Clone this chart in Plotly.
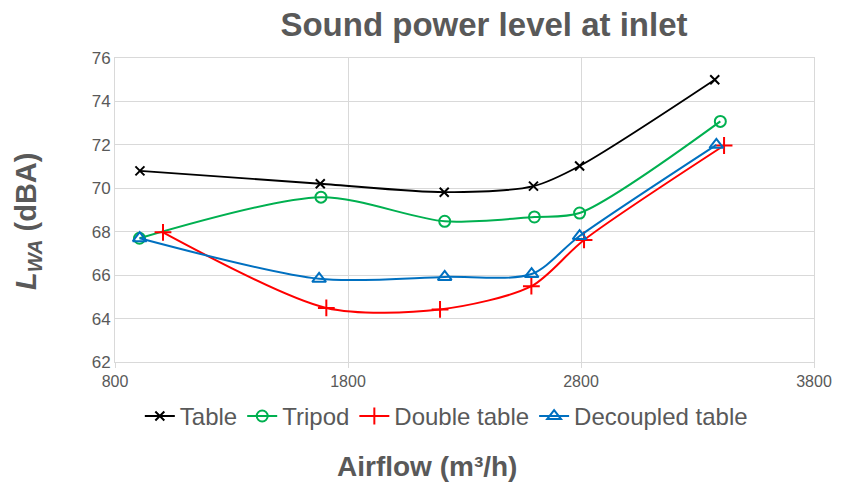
import plotly.graph_objects as go

# Airflow (m³/h) and sound power level L_WA (dBA) for each setup
table_x = [907, 1681, 2213, 2596, 2794, 3374]
table_y = [70.8, 70.21, 69.82, 70.1, 71.03, 75.0]

tripod_x = [905, 1684, 2215, 2600, 2794, 3398]
tripod_y = [67.7, 69.59, 68.48, 68.68, 68.86, 73.08]

double_x = [1006, 1707, 2195, 2587, 2813, 3414]
double_y = [67.97, 64.49, 64.42, 65.49, 67.62, 71.97]

decoupled_x = [906, 1676, 2215, 2588, 2794, 3381]
decoupled_y = [67.7, 65.83, 65.92, 66.05, 67.8, 72.0]

x_ticks = [800, 1800, 2800, 3800]

GRAY = "#595959"
GRID = "#d9d9d9"
FONT = "Liberation Sans, Arial, sans-serif"

series = [
    ("Table", table_x, table_y, "#000000", "x-thin-open", 9, 1.8),
    ("Tripod", tripod_x, tripod_y, "#00B050", "circle-open", 11, 2),
    ("Double table", double_x, double_y, "#FF0000", "cross-thin-open", 12, 2),
    ("Decoupled table", decoupled_x, decoupled_y, "#0070C0", "triangle-up-open", 12, 2),
]

fig = go.Figure()
for name, xs, ys, color, symbol, size, width in series:
    fig.add_trace(go.Scatter(
        x=xs, y=ys, name=name, mode="lines+markers",
        line=dict(color=color, width=width, shape="spline", smoothing=0.8),
        marker=dict(symbol=symbol, size=size, color=color,
                    line=dict(color=color, width=2)),
    ))

fig.update_layout(
    width=841, height=489,
    margin=dict(l=115, r=27, t=58, b=127, autoexpand=False),
    paper_bgcolor="white", plot_bgcolor="white",
    font=dict(family=FONT, color=GRAY, size=15),
    title=dict(text="<b>Sound power level at inlet</b>", x=0.5755, xanchor="center",
               y=0.949, yanchor="middle", font=dict(size=33, color=GRAY)),
    legend=dict(orientation="h", x=0.474, xanchor="center", y=-0.105, yanchor="top",
                font=dict(size=24, color=GRAY), itemwidth=30),
    showlegend=True,
)

# axis titles placed as annotations relative to the plot area
fig.add_annotation(
    text="<b><i>L</i><sub><i>WA</i></sub> (dBA)</b>", xref="paper", yref="paper",
    x=-0.1245, y=0.464, xanchor="center", yanchor="middle", textangle=-90,
    showarrow=False, font=dict(size=29, color=GRAY),
)
fig.add_annotation(
    text="<b>Airflow (m³/h)</b>", xref="paper", yref="paper",
    x=0.446, y=-0.345, xanchor="center", yanchor="middle",
    showarrow=False, font=dict(size=28, color=GRAY),
)

fig.update_xaxes(
    range=[800, 3800], tickvals=x_ticks, automargin=False,
    showgrid=True, gridcolor=GRID, gridwidth=1,
    showline=True, linecolor=GRID, linewidth=1, mirror=True,
    ticks="outside", tickcolor=GRID, ticklen=5,
    tickfont=dict(size=16, color=GRAY), zeroline=False,
)
fig.update_yaxes(
    range=[62, 76], dtick=2, automargin=False,
    showgrid=True, gridcolor=GRID, gridwidth=1,
    showline=True, linecolor=GRID, linewidth=1, mirror=True,
    ticks="", tickfont=dict(size=17, color=GRAY), zeroline=False,
)

fig.write_html("out.html")
